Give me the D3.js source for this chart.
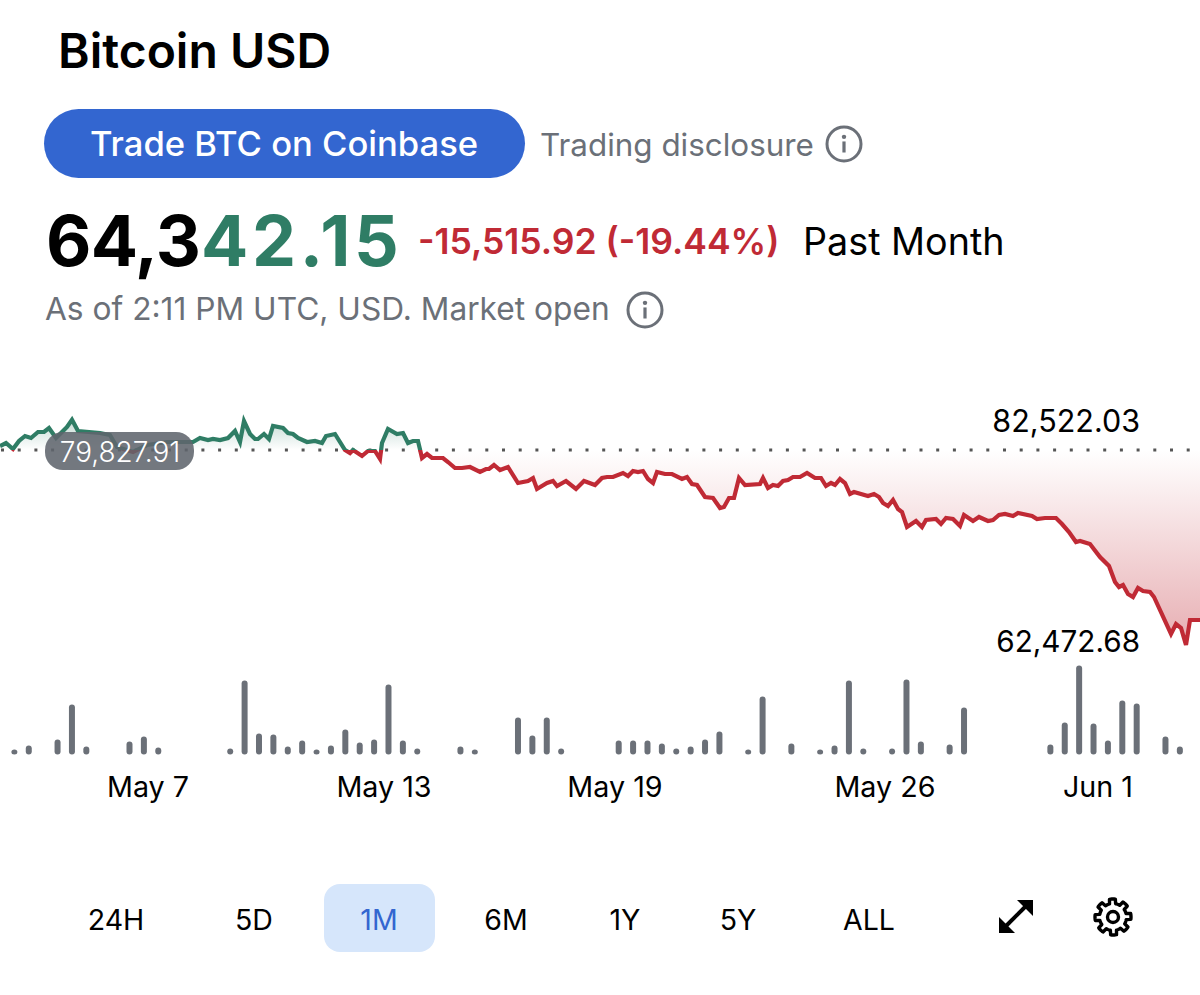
<!DOCTYPE html>
<html><head><meta charset="utf-8">
<script src="https://cdn.jsdelivr.net/npm/d3@7"></script>
<style>html,body{margin:0;padding:0;background:#fff}svg{display:block}text{font-family:Inter,"Noto Sans",sans-serif}</style>
</head><body><svg id="c" width="1200" height="995"></svg>
<script>
const title="Bitcoin USD";
const buttonLabel="Trade BTC on Coinbase";
const disclosure="Trading disclosure";
const priceBlack="64,3", priceGreen="42.15";
const change="-15,515.92 (-19.44%)", period="Past Month";
const asOf="As of 2:11 PM UTC, USD. Market open";
const highLabel="82,522.03", lowLabel="62,472.68", baseLabel="79,827.91";
const baseValue=79827.91;
const ranges=["24H","5D","1M","6M","1Y","5Y","ALL"];
const rangeCenters=[116,254,379,506,625,738,869];
// hours since start of the window
const hours=[0,3.6,7.8,11.4,15,18.6,22.8,26.4,29.4,33.6,37.2,40.2,43.2,46.8,60,66,70.2,79.8,88.2,100.2,
115.8,120,124.8,127.8,132,136.8,141,144,146.4,150,153,154.8,158.4,161.4,163.8,169.8,172.8,175.8,178.8,184.2,
189,193.2,195.6,201,207,210,211.8,217.2,220.8,225,228,229.2,232.8,238.2,241.8,244.8,247.8,250.8,
253.2,256.2,259.2,265.8,268.8,273,277.2,282,288,291.6,293.4,296.4,300,304.8,310.8,316.8,319.8,322.2,328.2,331.8,
334.2,339.6,345.6,350.4,357,361.2,364.2,367.8,373.8,376.8,379.8,382.8,385.8,388.8,391.8,394.2,399,403.2,409.2,412.2,
415.2,418.2,423,427.8,432,434.4,437.4,440.4,443.4,447,456,457.8,460.8,463.8,466.8,469.8,472.8,475.8,
480,484.2,489,492.6,495.6,498.6,501,504,507,510,512.4,520.8,524.4,527.4,529.8,532.8,535.8,538.8,541.2,544.2,
549.6,553.2,555.6,561.6,564.6,567.6,571.8,576,578.4,583.8,587.4,592.8,595.8,599.4,603,607.8,610.8,619.2,622.2,
627,633.6,637.2,641.4,645.6,648,654,660,665.4,669,671.4,673.8,676.8,679.8,682.8,685.8,690,692.4,702.6,705.6,708.6,711.6,714,720];
// price at each of those hours
const prices=[80184,80451,79917,80629,81074,80896,81430,81430,81786,80896,81430,81875,82522.03,81519,81341,81163,80095,79650,80273,80540,
80540,80896,80718,80807,80718,80896,81519,80540,82400,81252,80807,80807,81252,80807,81964,81786,81341,81252,80896,80540,
80629,80451,81074,81252,79828,79561,79828,79294,79739,79739,79027,80451,81697,81252,81341,80451,80629,80629,
79116,79472,79116,79116,78760,78226,78226,78315,77870,78137,78137,78493,78048,78315,76891,77069,77336,76357,76891,77069,
76624,77069,76357,77069,76713,77336,77425,77425,77781,77514,77959,77870,77959,77247,76891,77870,77692,77692,77247,77425,
76802,76713,75645,75556,74666,74755,75556,75556,77336,76713,76802,77336,76446,76713,76624,77069,77158,77425,
77425,77781,77336,77336,76624,76891,76713,77247,76891,75912,76090,75734,75912,75645,75111,74844,75378,74577,74310,72975,
73509,72975,73598,73687,73242,73776,73687,73064,74043,73509,73865,73509,73598,74043,74132,73954,74221,73954,73687,
73776,73776,73242,72530,71640,71729,71462,70305,69504,68080,67635,67813,67012,66745,67546,67279,67190,66745,63452,64342,63986,62472.68,64698,64698];
const volumeSlots=[1,2,4,5,6,9,10,11,16,17,18,19,20,21,22,23,24,25,26,27,28,29,32,33,36,37,38,39,43,44,45,46,47,48,49,50,52,53,55,57,58,59,60,62,63,64,66,67,73,74,75,76,77,78,79,81,82];
const volumes=[5,9,15,50,8,13,18,7,6,74,21,20,8,14,5,9,25,12,15,70,14,6,8,5,37,19,37,6,14,14,14,11,6,8,15,23,5,58,11,5,9,74,6,6,75,13,10,47,10,32,89,31,14,54,51,18,8];
const tickLabels=["May 7","May 13","May 19","May 26","Jun 1"];
const tickHours=[88.8,230.4,369,531,658.8];

const svg=d3.select("#c");
const x=d3.scaleLinear().domain([0,720]).range([0,1200]);
const y=d3.scaleLinear().domain([baseValue,62472.68]).range([450,645]);
const xVol=d3.scaleLinear().domain([0,83.4]).range([0,1200]);
const yVol=d3.scaleLinear().domain([0,90]).range([754.6,664.6]);
const GREY="#6b7078",GREEN="#2f7d65",RED="#c02a35",BLUE="#3366d0";
const T=(s,px,py,size,opt={})=>svg.append("text").attr("x",px).attr("y",py).attr("font-size",size)
  .attr("font-weight",opt.w||400).attr("fill",opt.c||"#000").attr("text-anchor",opt.a||"start").text(s);

T(title,58,68,48,{w:600});
svg.append("rect").attr("x",44).attr("y",109).attr("width",481).attr("height",69).attr("rx",34.5).attr("fill",BLUE);
T(buttonLabel,284,156,34.6,{w:500,c:"#fff",a:"middle"});
T(disclosure,540,156,31.4,{c:GREY});
function info(cx,cy,r){
  const g=svg.append("g");
  g.append("circle").attr("cx",cx).attr("cy",cy).attr("r",r).attr("fill","none").attr("stroke",GREY).attr("stroke-width",3);
  g.append("circle").attr("cx",cx).attr("cy",cy-r*0.42).attr("r",2.2).attr("fill",GREY);
  g.append("rect").attr("x",cx-1.6).attr("y",cy-r*0.15).attr("width",3.2).attr("height",r*0.65).attr("fill",GREY);
}
info(844,144,17);info(645,310,17);
T(priceBlack,46,266,70,{w:700}).attr("letter-spacing",-0.8);
T(priceGreen,201,266,70,{w:700,c:GREEN}).attr("letter-spacing",3.6);
T(change,418,254,35.5,{w:600,c:RED});
T(period,803,255,37.7);
T(asOf,45,320,31.7,{c:GREY});

const data=hours.map((h,i)=>({h,p:prices[i]}));
const defs=svg.append("defs");
const gr=defs.append("linearGradient").attr("id","gRed").attr("gradientUnits","userSpaceOnUse").attr("x1",0).attr("x2",0).attr("y1",450).attr("y2",645);
gr.append("stop").attr("offset",0).attr("stop-color",RED).attr("stop-opacity",0);
gr.append("stop").attr("offset",1).attr("stop-color",RED).attr("stop-opacity",.38);
const gg=defs.append("linearGradient").attr("id","gGreen").attr("gradientUnits","userSpaceOnUse").attr("x1",0).attr("x2",0).attr("y1",450).attr("y2",418);
gg.append("stop").attr("offset",0).attr("stop-color",GREEN).attr("stop-opacity",0);
gg.append("stop").attr("offset",1).attr("stop-color",GREEN).attr("stop-opacity",.3);
defs.append("clipPath").attr("id","above").append("rect").attr("x",0).attr("y",400).attr("width",1200).attr("height",50);
defs.append("clipPath").attr("id","below").append("rect").attr("x",0).attr("y",450).attr("width",1200).attr("height",210);
const area=d3.area().x(d=>x(d.h)).y0(y(baseValue)).y1(d=>y(d.p));
const line=d3.line().x(d=>x(d.h)).y(d=>y(d.p));
svg.append("path").attr("d",area(data)).attr("fill","url(#gGreen)").attr("clip-path","url(#above)");
svg.append("path").attr("d",area(data)).attr("fill","url(#gRed)").attr("clip-path","url(#below)");
svg.append("line").attr("x1",1).attr("x2",1200).attr("y1",450).attr("y2",450).attr("stroke","#555").attr("stroke-width",3).attr("stroke-dasharray","3 13.7");
svg.append("path").attr("d",line(data)).attr("fill","none").attr("stroke",GREEN).attr("stroke-width",4.2).attr("stroke-linejoin","miter").attr("clip-path","url(#above)");
svg.append("path").attr("d",line(data)).attr("fill","none").attr("stroke",RED).attr("stroke-width",4.2).attr("stroke-linejoin","miter").attr("clip-path","url(#below)");

svg.append("rect").attr("x",45).attr("y",432).attr("width",149).attr("height",38).attr("rx",18).attr("fill","#60656d").attr("fill-opacity",.88);
T(baseLabel,120,462,27.9,{c:"#fff",a:"middle",w:300});
T(highLabel,1140,432,30.5,{a:"end"});
T(lowLabel,1140,652,29.7,{a:"end"});

svg.selectAll(".vol").data(volumeSlots).join("rect").attr("class","vol")
  .attr("x",d=>xVol(d)-3).attr("width",6)
  .attr("y",(d,i)=>yVol(volumes[i])).attr("height",(d,i)=>yVol(0)-yVol(volumes[i]))
  .attr("rx",3).attr("fill",GREY);

tickLabels.forEach((s,i)=>T(s,x(tickHours[i]),797,28.7,{a:"middle"}));

svg.append("rect").attr("x",324).attr("y",884).attr("width",111).attr("height",68).attr("rx",16).attr("fill","#d6e6fb");
ranges.forEach((s,i)=>T(s,rangeCenters[i],930,28.5,{a:"middle",c:s==="1M"?BLUE:"#000"}));

// expand icon
const ic=svg.append("g");
ic.append("line").attr("x1",1006).attr("y1",926).attr("x2",1026).attr("y2",906).attr("stroke","#000").attr("stroke-width",4);
ic.append("polygon").attr("points","1033,900 1033,916 1017,900").attr("fill","#000");
ic.append("polygon").attr("points","999,933 999,917 1015,933").attr("fill","#000");
// gear icon
const gearPts=d3.range(0,96).map(k=>{const a=k/96*2*Math.PI;const t=((k+3)%12)/12;const r=(t<0.5)?18:13.5;return [a,r];});
svg.append("path").attr("transform","translate(1113,917)").attr("d",d3.lineRadial().curve(d3.curveLinearClosed)(gearPts))
  .attr("fill","none").attr("stroke","#000").attr("stroke-width",3.4).attr("stroke-linejoin","round");
svg.append("circle").attr("cx",1113).attr("cy",917).attr("r",5.5).attr("fill","none").attr("stroke","#000").attr("stroke-width",3.4);
</script></body></html>
